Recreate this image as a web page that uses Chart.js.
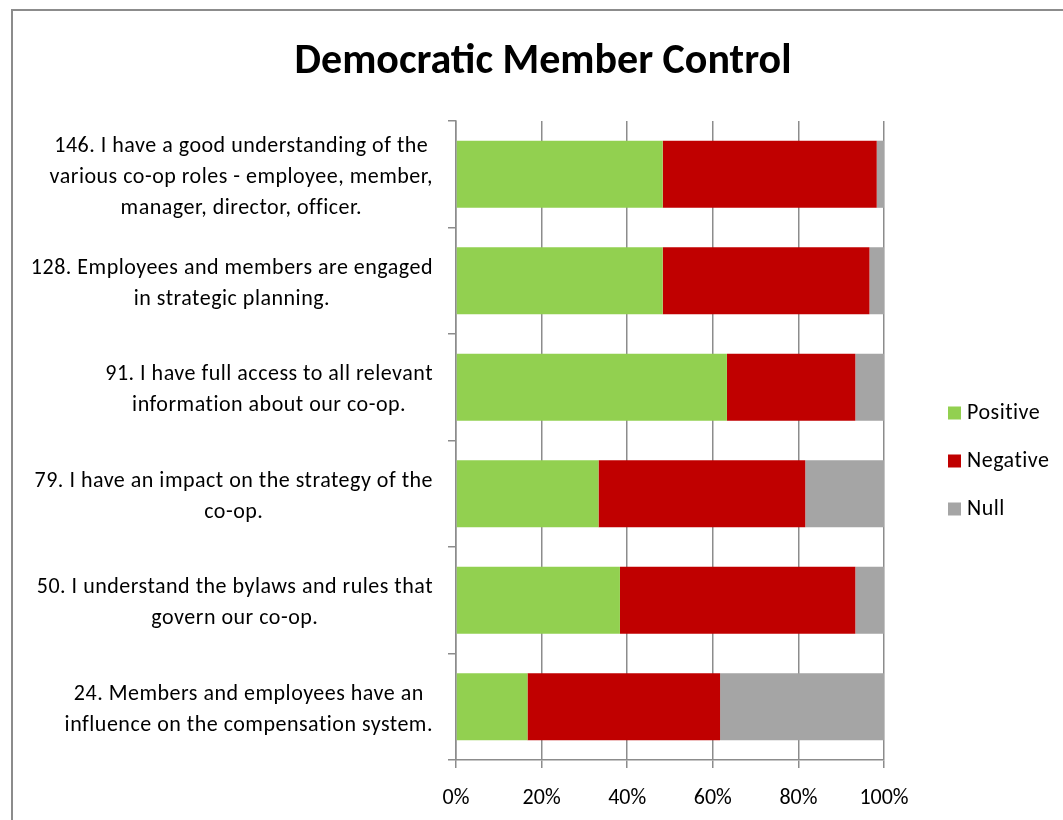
<!DOCTYPE html>
<html>
<head>
<meta charset="utf-8">
<script src="https://cdn.jsdelivr.net/npm/chart.js@4/dist/chart.umd.min.js"></script>
<style>
  html, body { margin: 0; padding: 0; background: #fff; overflow: hidden; }
  #wrap { position: relative; width: 1063px; height: 820px; }
  #frame { position: absolute; left: 11px; top: 9px; width: 1200px; height: 1000px; border: 2px solid #8c8c8c; box-sizing: border-box; }
  canvas { position: absolute; left: 0; top: 0; }
</style>
</head>
<body>
<div id="wrap">
  <div id="frame"></div>
  <canvas id="controlChart" width="1063" height="820"></canvas>
</div>
<script>
const FONT = 'Carlito, Calibri, Lato, "Liberation Sans", sans-serif';

const chartTitle = 'Democratic Member Control';
const questions = [
    ['146. I have a good understanding of the', 'various co-op roles - employee, member,', 'manager, director, officer.'],
    ['128. Employees and members are engaged', 'in strategic planning.'],
    ['91. I have full access to all relevant', 'information about our co-op.'],
    ['79. I have an impact on the strategy of the', 'co-op.'],
    ['50. I understand the bylaws and rules that', 'govern our co-op.'],
    ['24. Members and employees have an', 'influence on the compensation system.']
];
const positive = [48.3, 48.3, 63.3, 33.3, 38.3, 16.7];
const negative = [50.0, 48.3, 30.0, 48.3, 55.0, 45.0];
const nullShare = [1.7, 3.4, 6.7, 18.4, 6.7, 38.3];
const xTicks = [0, 20, 40, 60, 80, 100];

// heading, centred over the whole frame rather than the plot
const heading = {
    id: 'heading',
    afterDraw(chart) {
        const ctx = chart.ctx;
        ctx.save();
        ctx.font = 'bold 42px ' + FONT;
        ctx.fillStyle = '#000';
        ctx.textAlign = 'center';
        ctx.textBaseline = 'middle';
        ctx.fillText(chartTitle, 543, 62);
        ctx.restore();
    }
};

// question text: each block centred on itself, blocks right-aligned next to the axis
const questionLabels = {
    id: 'questionLabels',
    afterDraw(chart) {
        const ctx = chart.ctx;
        const y = chart.scales.y;
        const right = chart.chartArea.left - 23;
        ctx.save();
        ctx.font = '22px ' + FONT;
        ctx.letterSpacing = '0.5px';
        ctx.fillStyle = '#000';
        ctx.textAlign = 'center';
        ctx.textBaseline = 'middle';
        chart.data.labels.forEach((lines, i) => {
            const w = Math.max(...lines.map(l => ctx.measureText(l).width));
            const cx = right - w / 2;
            const cy = y.getPixelForValue(i) + 3;
            const lh = 31;
            lines.forEach((l, j) => {
                ctx.fillText(l, cx, cy + (j - (lines.length - 1) / 2) * lh);
            });
        });
        ctx.restore();
    }
};

// legend to the right of the plot
const sideLegend = {
    id: 'sideLegend',
    afterDraw(chart) {
        const ctx = chart.ctx;
        const area = chart.chartArea;
        const x = area.right + 64;
        const mid = (area.top + area.bottom) / 2 + 21;
        const sets = chart.data.datasets;
        ctx.save();
        ctx.font = '22px ' + FONT;
        ctx.letterSpacing = '0.5px';
        ctx.textBaseline = 'middle';
        ctx.textAlign = 'left';
        sets.forEach((ds, i) => {
            const cy = mid + (i - (sets.length - 1) / 2) * 48;
            ctx.fillStyle = ds.backgroundColor;
            ctx.fillRect(x, cy - 7, 13, 13);
            ctx.fillStyle = '#000';
            ctx.fillText(ds.label, x + 19, cy);
        });
        ctx.restore();
    }
};

const ctx = document.getElementById('controlChart').getContext('2d');
new Chart(ctx, {
    type: 'bar',
    data: {
        labels: questions,
        datasets: [
            { label: 'Positive', data: positive, backgroundColor: '#92d050' },
            { label: 'Negative', data: negative, backgroundColor: '#c00000' },
            { label: 'Null', data: nullShare, backgroundColor: '#a5a5a5' }
        ]
    },
    options: {
        indexAxis: 'y',
        responsive: false,
        animation: false,
        layout: { padding: { left: 24, right: 179, top: 121, bottom: 0 } },
        plugins: {
            legend: { display: false },
            tooltip: { enabled: false },
            title: { display: false }
        },
        datasets: { bar: { barPercentage: 0.63, categoryPercentage: 1 } },
        scales: {
            x: {
                stacked: true,
                min: 0,
                max: 100,
                afterBuildTicks: s => { s.ticks = xTicks.map(v => ({ value: v })); },
                afterFit: s => { s.height = 60; },
                ticks: {
                    callback: v => v + '%',
                    color: '#000',
                    padding: 17,
                    font: { family: FONT, size: 22 }
                },
                grid: { color: '#8c8c8c', lineWidth: 1.5, tickLength: 8 },
                border: { color: '#8c8c8c', width: 1.5 }
            },
            y: {
                stacked: true,
                afterFit: s => { s.width = 432; },
                ticks: { display: false },
                grid: { drawOnChartArea: false, color: '#8c8c8c', lineWidth: 1.5, tickLength: 8, offset: true },
                border: { color: '#8c8c8c', width: 1.5 }
            }
        }
    },
    plugins: [heading, questionLabels, sideLegend]
});
</script>
</body>
</html>
